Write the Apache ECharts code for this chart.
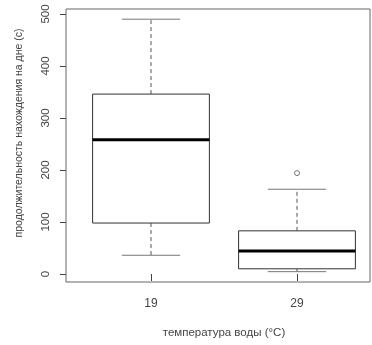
<!DOCTYPE html>
<html>
<head>
<meta charset="utf-8">
<script src="https://cdn.jsdelivr.net/npm/echarts@6/dist/echarts.min.js"></script>
<style>
  html, body { margin: 0; padding: 0; background: #fff; }
  #main { width: 372px; height: 345px; }
</style>
</head>
<body>
<div id="main"></div>
<script>
// 分组（温度）
const categories = ['19', '29'];
// 箱线数据: [min, Q1, median, Q3, max]
const boxStats = [
  [36, 98, 258, 346, 490],
  [4.5, 10, 44, 83, 163]
];
// 离群点 [组索引, 值]
const outliers = [[1, 194]];
const yTicks = { min: 0, max: 500, interval: 100 };

const chartDom = document.getElementById('main');
const myChart = echarts.init(chartDom);

const boxData = boxStats.map(function (s, i) { return [i].concat(s); });

const textColor = '#444';
const font = 'Liberation Sans, Arial, sans-serif';

const option = {
  backgroundColor: '#fff',
  animation: false,
  grid: [
    // 外框
    { left: 66, right: 2, top: 9, bottom: 63, show: true, borderColor: '#666', borderWidth: 1, backgroundColor: 'transparent' },
    // 数据区
    { left: 78, width: 292, top: 14, bottom: 71 }
  ],
  xAxis: [
    { type: 'value', gridIndex: 0, show: false },
    {
      type: 'category',
      gridIndex: 1,
      data: categories,
      position: 'bottom',
      offset: 8,
      axisLine: { show: false },
      axisTick: { show: true, alignWithLabel: true, length: 7, lineStyle: { color: '#444' } },
      axisLabel: { color: textColor, fontSize: 12, fontFamily: font, margin: 16 },
      name: 'температура воды (°C)',
      nameLocation: 'middle',
      nameGap: 45,
      nameTextStyle: { color: textColor, fontSize: 11.5, fontFamily: font }
    }
  ],
  yAxis: [
    { type: 'value', gridIndex: 0, show: false },
    {
      type: 'value',
      gridIndex: 1,
      min: yTicks.min,
      max: yTicks.max,
      interval: yTicks.interval,
      offset: 12,
      axisLine: { show: false },
      axisTick: { show: true, length: 6, lineStyle: { color: '#444' } },
      splitLine: { show: false },
      axisLabel: { color: textColor, fontSize: 11.5, fontFamily: font, rotate: 90, margin: 14 },
      name: 'продолжительность нахождения на дне (с)',
      nameLocation: 'middle',
      nameGap: 41,
      nameTextStyle: { color: textColor, fontSize: 10.5, fontFamily: font, padding: [0, 0, 0, 22] }
    }
  ],
  series: [
    {
      type: 'custom',
      xAxisIndex: 1,
      yAxisIndex: 1,
      data: boxData,
      encode: { x: 0, y: [1, 2, 3, 4, 5] },
      renderItem: function (params, api) {
        const idx = api.value(0);
        const band = api.size([1, 0])[0];
        const half = band * 0.4;
        const capHalf = band * 0.2;
        const pMin = api.coord([idx, api.value(1)]);
        const pQ1 = api.coord([idx, api.value(2)]);
        const pMed = api.coord([idx, api.value(3)]);
        const pQ3 = api.coord([idx, api.value(4)]);
        const pMax = api.coord([idx, api.value(5)]);
        const cx = pMed[0];
        const dashStyle = { stroke: '#555', lineWidth: 1, lineDash: [4, 3] };
        const capStyle = { stroke: '#777', lineWidth: 1 };
        return {
          type: 'group',
          children: [
            { type: 'line', shape: { x1: cx, y1: pQ3[1], x2: cx, y2: pMax[1] }, style: dashStyle },
            { type: 'line', shape: { x1: cx, y1: pQ1[1], x2: cx, y2: pMin[1] }, style: dashStyle },
            { type: 'line', shape: { x1: cx - capHalf, y1: pMax[1], x2: cx + capHalf, y2: pMax[1] }, style: capStyle },
            { type: 'line', shape: { x1: cx - capHalf, y1: pMin[1], x2: cx + capHalf, y2: pMin[1] }, style: capStyle },
            {
              type: 'rect',
              shape: { x: cx - half, y: pQ3[1], width: half * 2, height: pQ1[1] - pQ3[1] },
              style: { fill: '#fff', stroke: '#333', lineWidth: 1 }
            },
            { type: 'line', shape: { x1: cx - half, y1: pMed[1], x2: cx + half, y2: pMed[1] }, style: { stroke: '#000', lineWidth: 3 } }
          ]
        };
      }
    },
    {
      type: 'scatter',
      xAxisIndex: 1,
      yAxisIndex: 1,
      data: outliers,
      symbol: 'circle',
      symbolSize: 5,
      itemStyle: { color: '#fff', borderColor: '#555', borderWidth: 1 }
    }
  ]
};

option && myChart.setOption(option);
</script>
</body>
</html>
